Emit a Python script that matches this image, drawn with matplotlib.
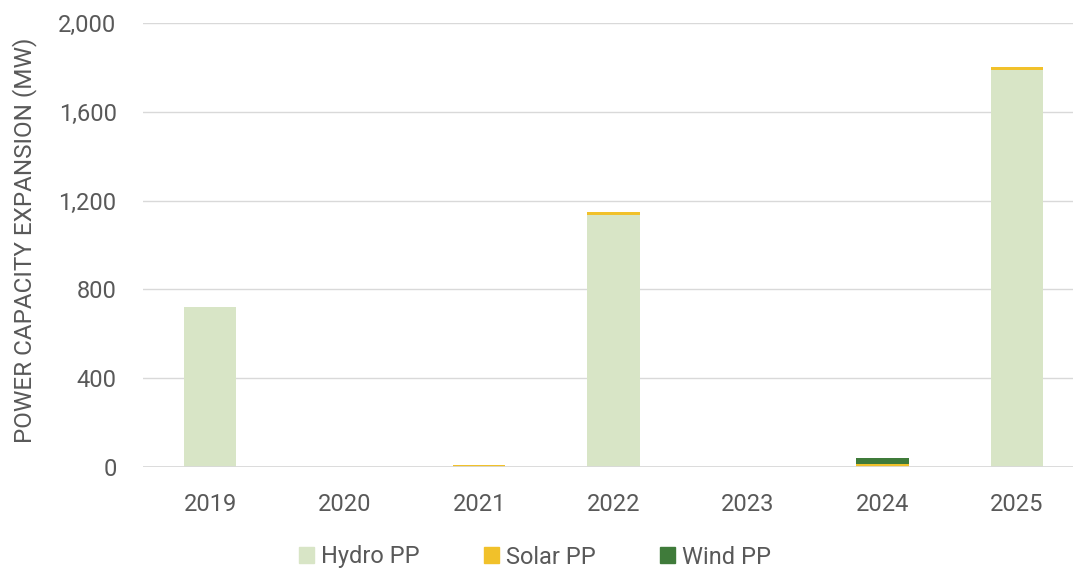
import matplotlib
matplotlib.use("Agg")
import matplotlib.pyplot as plt
import numpy as np
from matplotlib.patches import Patch

years = ["2019", "2020", "2021", "2022", "2023", "2024", "2025"]
hydro = [722, 0, 0, 1135, 0, 0, 1790]
solar = [0, 0, 10, 13, 0, 14, 13]
wind = [0, 0, 0, 0, 0, 28, 0]
yticks = [0, 400, 800, 1200, 1600, 2000]

c_hydro = "#d8e5c6"
c_solar = "#f1c12a"
c_wind = "#3f7b3a"
txt = "#595959"

plt.rcParams['font.family'] = ['Roboto', 'DejaVu Sans']

fig = plt.figure(figsize=(10.73, 5.72), dpi=100)
ax = fig.add_axes([143/1073, 1-467/572, (1073-143)/1073, 444/572])

x = np.arange(len(years))
w = 0.39
h = np.array(hydro); s = np.array(solar); wd = np.array(wind)
ax.bar(x, h, w, color=c_hydro, zorder=3)
ax.bar(x, s, w, bottom=h, color=c_solar, zorder=3)
ax.bar(x, wd, w, bottom=h + s, color=c_wind, zorder=3)

ax.set_xlim(-0.5, 6.417)
ax.set_ylim(0, 2000)
ax.set_yticks(yticks)
ax.set_yticklabels([f"{v:,}" for v in yticks])
ax.set_xticks(x)
ax.set_xticklabels(years)
ax.yaxis.grid(True, color="#d9d9d9", linewidth=1.0, zorder=0)
ax.axhline(0, color="#d9d9d9", linewidth=2.0, zorder=4)
for sp in ax.spines.values():
    sp.set_visible(False)
ax.tick_params(axis="both", length=0, labelsize=17, colors=txt)
ax.tick_params(axis="y", pad=19)
ax.tick_params(axis="x", pad=19)
ax.set_ylabel("POWER CAPACITY EXPANSION (MW)", fontsize=17.5, color=txt)
ax.yaxis.set_label_coords((25 - 143) / 930, 0.51)
ax.yaxis.label.set_verticalalignment("center")

handles = [Patch(color=c_hydro, label="Hydro PP"),
           Patch(color=c_solar, label="Solar PP"),
           Patch(color=c_wind, label="Wind PP")]
fig.legend(handles=handles, loc="center", bbox_to_anchor=(535/1073, 1-557/572), ncol=3,
           frameon=False, fontsize=17, handlelength=0.65, handleheight=0.65,
           handletextpad=0.3, columnspacing=2.7, labelcolor=txt)

fig.savefig("out.png", dpi=100)
